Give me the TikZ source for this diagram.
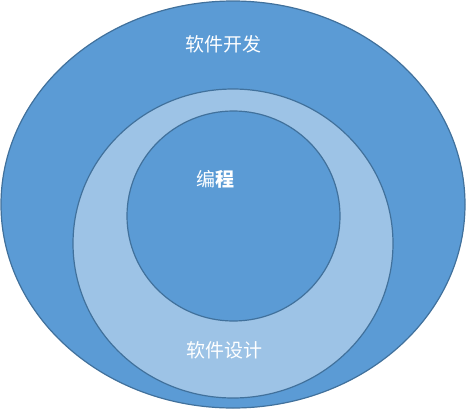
\documentclass[tikz,border=0pt]{standalone}
\usepackage{fontspec}
\newfontfamily\cjk{Noto Sans CJK SC}
\definecolor{outerblue}{HTML}{5B9BD5}
\definecolor{lightblue}{HTML}{9DC3E6}
\definecolor{edgeblue}{HTML}{41719C}
\begin{document}
\begin{tikzpicture}[x=1pt,y=-1pt,
  ring/.style={draw=edgeblue,line width=1.2pt},
  lbl/.style={text=white,font=\cjk\fontsize{19}{22}\selectfont,inner sep=0pt}]
\useasboundingbox (0,0) rectangle (466,410);
\fill[white] (0,0) rectangle (466,410);
\draw[ring,fill=outerblue] (233,204.5) ellipse [x radius=232,y radius=203.5];
\draw[ring,fill=lightblue] (233,243.5) ellipse [x radius=160,y radius=154.5];
\draw[ring,fill=outerblue] (233.5,216) ellipse [x radius=106.5,y radius=105];
\node[lbl] (dev) at (223,44) {软件开发};
\node[lbl] (prog) at (215,179) {编{\bfseries 程}};
\node[lbl] (design) at (224.5,350) {软件设计};
\end{tikzpicture}
\end{document}
